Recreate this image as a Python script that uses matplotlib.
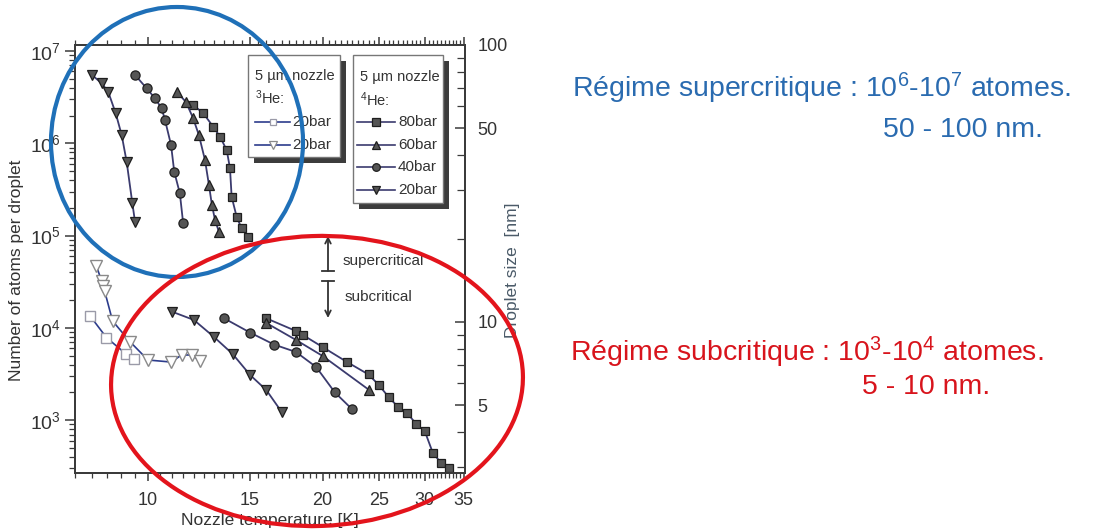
import matplotlib
matplotlib.use('Agg')
import matplotlib.pyplot as plt
import numpy as np
from matplotlib.patches import Ellipse, Rectangle
from matplotlib.lines import Line2D
from matplotlib.ticker import FixedLocator, LogLocator, NullFormatter, FixedFormatter

plt.rcParams['font.family'] = ['Liberation Sans', 'DejaVu Sans']
plt.rcParams['mathtext.fontset'] = 'custom'
plt.rcParams['mathtext.rm'] = 'Liberation Sans'
plt.rcParams['mathtext.it'] = 'Liberation Sans:italic'
plt.rcParams['mathtext.bf'] = 'Liberation Sans:bold'

# ---------------- data ----------------
# 4He, 5 um nozzle, supercritical branch
T_sup_80 = [11.97, 12.46, 12.96, 13.31, 13.67, 13.85, 13.94, 14.22, 14.50, 14.89]
N_sup_80 = [2.60e6, 2.11e6, 1.51e6, 1.18e6, 8.45e5, 5.35e5, 2.64e5, 1.60e5, 1.20e5, 9.7e4]
T_sup_60 = [11.22, 11.63, 11.96, 12.24, 12.54, 12.74, 12.89, 13.05, 13.26]
N_sup_60 = [3.6e6, 2.8e6, 1.88e6, 1.23e6, 6.6e5, 3.53e5, 2.15e5, 1.48e5, 1.09e5]
T_sup_40 = [9.50, 9.95, 10.28, 10.56, 10.70, 10.96, 11.10, 11.35, 11.50]
N_sup_40 = [5.5e6, 3.94e6, 3.08e6, 2.39e6, 1.79e6, 9.6e5, 4.92e5, 2.87e5, 1.36e5]
T_sup_20 = [8.01, 8.32, 8.54, 8.80, 9.01, 9.19, 9.40, 9.50]
N_sup_20 = [5.5e6, 4.47e6, 3.62e6, 2.11e6, 1.23e6, 6.3e5, 2.24e5, 1.41e5]

# 4He, subcritical branch
T_sub_80 = [16, 18, 18.5, 20, 22, 24, 25, 26, 27, 28, 29, 30, 31, 32, 33]
N_sub_80 = [1.27e4, 9.25e3, 8.37e3, 6.21e3, 4.30e3, 3.13e3, 2.41e3, 1.78e3,
            1.39e3, 1.19e3, 910, 764, 438, 347, 303]
T_sub_60 = [16, 18, 20, 24]
N_sub_60 = [1.13e4, 7.4e3, 4.97e3, 2.15e3]
T_sub_40 = [13.5, 15, 16.5, 18, 19.5, 21, 22.5]
N_sub_40 = [1.28e4, 8.9e3, 6.6e3, 5.48e3, 3.77e3, 2.0e3, 1.31e3]
T_sub_20 = [11, 12, 13, 14, 15, 16, 17]
N_sub_20 = [1.50e4, 1.22e4, 7.97e3, 5.21e3, 3.09e3, 2.12e3, 1.23e3]

# 3He, 5 um nozzle
T_he3_sq = [7.94, 8.48, 9.17, 9.45]
N_he3_sq = [1.36e4, 7.87e3, 5.21e3, 4.6e3]
T_he3_tri = [8.15, 8.32, 8.37, 8.42, 8.69, 9.31, 10.0, 10.96, 11.43, 11.89, 12.31]
N_he3_tri = [4.69e4, 3.22e4, 2.84e4, 2.51e4, 1.19e4, 7.1e3, 4.49e3, 4.27e3, 5.09e3, 5.09e3, 4.38e3]

x_ticks = [10, 15, 20, 25, 30, 35]
size_ticks = [5, 10, 50, 100]
legend_he4 = ['80bar', '60bar', '40bar', '20bar']
legend_he3 = ['20bar', '20bar']

# ---------------- figure ----------------
W, H = 1095, 529
fig = plt.figure(figsize=(W / 100, H / 100), dpi=100)
L, R, TOP, BOT = 75, 465, 45, 473
ax = fig.add_axes([L / W, 1 - BOT / H, (R - L) / W, (BOT - TOP) / H])
ax.set_xscale('log')
ax.set_yscale('log')
ymin, ymax = 268.0, 1.162e7
ax.set_xlim(7.486, 35.2)
ax.set_ylim(ymin, ymax)

axc = '#3a3a3a'
for sp in ax.spines.values():
    sp.set_color(axc)
    sp.set_linewidth(1.3)

ax.xaxis.set_major_locator(FixedLocator(x_ticks))
ax.xaxis.set_major_formatter(FixedFormatter([str(t) for t in x_ticks]))
minor_x = [v for v in np.arange(7.5, 35.01, 0.5) if v not in x_ticks]
ax.xaxis.set_minor_locator(FixedLocator(minor_x))
ax.xaxis.set_minor_formatter(NullFormatter())
ax.tick_params(axis='x', which='both', direction='out', top=True, bottom=True,
               colors=axc, labelcolor='#333333', labelsize=13, pad=8)
ax.tick_params(axis='x', which='major', length=6, width=1.1)
ax.tick_params(axis='x', which='minor', length=3.5, width=0.9)

ax.yaxis.set_major_locator(LogLocator(base=10))
ax.yaxis.set_minor_locator(LogLocator(base=10, subs=np.arange(2, 10)))
ax.yaxis.set_minor_formatter(NullFormatter())
ax.tick_params(axis='y', which='both', direction='out', left=True, right=False,
               colors=axc, labelcolor='#333333', labelsize=14, pad=3)
ax.tick_params(axis='y', which='major', length=7, width=1.1)
ax.tick_params(axis='y', which='minor', length=4, width=0.9)

# right axis: droplet size ~ N^(1/3)
c = 100.0 / ymax ** (1 / 3)
ax2 = ax.twinx()
ax2.set_yscale('log')
ax2.set_ylim(c * ymin ** (1 / 3), c * ymax ** (1 / 3))
ax2.yaxis.set_major_locator(FixedLocator(size_ticks))
ax2.yaxis.set_major_formatter(FixedFormatter([str(t) for t in size_ticks]))
ax2.yaxis.set_minor_locator(LogLocator(base=10, subs=np.arange(2, 10)))
ax2.yaxis.set_minor_formatter(NullFormatter())
ax2.tick_params(axis='y', which='both', direction='in', colors=axc,
                labelcolor='#333333', labelsize=13, pad=9)
ax2.tick_params(axis='y', which='major', length=7, width=1.1)
ax2.tick_params(axis='y', which='minor', length=6, width=0.9)
for sp in ax2.spines.values():
    sp.set_color(axc)
    sp.set_linewidth(1.3)

line_c = '#3b3b6e'
mfc = '#555555'
mec = '#1e1e1e'
styles = {80: 's', 60: '^', 40: 'o', 20: 'v'}
ms = {80: 6.3, 60: 7.3, 40: 6.6, 20: 7.8}
sup = {80: (T_sup_80, N_sup_80), 60: (T_sup_60, N_sup_60),
       40: (T_sup_40, N_sup_40), 20: (T_sup_20, N_sup_20)}
sub = {80: (T_sub_80, N_sub_80), 60: (T_sub_60, N_sub_60),
       40: (T_sub_40, N_sub_40), 20: (T_sub_20, N_sub_20)}
for p in (80, 60, 40, 20):
    for d in (sup, sub):
        x, y = d[p]
        ax.plot(x, y, color=line_c, lw=1.3, marker=styles[p], ms=ms[p],
                mfc=mfc, mec=mec, mew=0.9, zorder=3)

he3_line = '#2c3c8c'
ax.plot(T_he3_sq, N_he3_sq, color=he3_line, lw=1.2, marker='s', ms=6.5,
        mfc='white', mec='#9a9aa8', mew=1.0, zorder=3)
ax.plot(T_he3_tri, N_he3_tri, color=he3_line, lw=1.2, marker='v', ms=8,
        mfc='white', mec='#8a8a8a', mew=1.0, zorder=3)

# ---------------- overlay in pixel coordinates ----------------
ov = fig.add_axes([0, 0, 1, 1], zorder=10)
ov.set_xlim(0, W)
ov.set_ylim(H, 0)
ov.axis('off')
ov.patch.set_alpha(0)

txtc = '#333333'
ov.text(17, 270, 'Number of atoms per droplet', rotation=90, ha='center',
        va='center', fontsize=12.5, color=txtc)
ov.text(270, 521, 'Nozzle temperature [K]', ha='center', va='center',
        fontsize=12.5, color=txtc)
ov.text(512, 270, 'Droplet size  [nm]', rotation=90, ha='center', va='center',
        fontsize=12.5, color='#4a5a68')


def legend_box(x0, y0, x1, y1):
    ov.add_patch(Rectangle((x0 + 6, y0 + 6), x1 - x0, y1 - y0, fc='#3c3c3c',
                           ec='none', zorder=4))
    ov.add_patch(Rectangle((x0, y0), x1 - x0, y1 - y0, fc='white',
                           ec='#777777', lw=1.0, zorder=5))


def legend_entry(xa, xb, y, marker, msz, face, edge, lc, label, xt):
    ov.add_line(Line2D([xa, xb], [y, y], color=lc, lw=1.2, zorder=6))
    ov.add_line(Line2D([(xa + xb) / 2], [y], marker=marker, ms=msz, mfc=face,
                       mec=edge, mew=0.9, ls='none', zorder=7))
    ov.text(xt, y, label, ha='left', va='center', fontsize=11, color=txtc,
            zorder=7)


# 3He legend
legend_box(248, 55, 340, 157)
ov.text(255, 76, '5 \u00b5m nozzle', ha='left', va='center', fontsize=10.5,
        color=txtc, zorder=7)
ov.text(255, 98, '$^{3}$He:', ha='left', va='center', fontsize=10.5,
        color=txtc, zorder=7)
legend_entry(255, 290, 122, 's', 5, 'white', '#9a9aa8', he3_line, legend_he3[0], 292)
legend_entry(255, 290, 145, 'v', 6, 'white', '#8a8a8a', he3_line, legend_he3[1], 292)

# 4He legend
legend_box(353, 55, 443, 203)
ov.text(360, 77, '5 \u00b5m nozzle', ha='left', va='center', fontsize=10.5,
        color=txtc, zorder=7)
ov.text(360, 100, '$^{4}$He:', ha='left', va='center', fontsize=10.5,
        color=txtc, zorder=7)
for lab, mk, yy in zip(legend_he4, ['s', '^', 'o', 'v'], [122, 145, 167, 190]):
    legend_entry(357, 395, yy, mk, 5.5, mfc, mec, line_c, lab, 398)

# super/subcritical arrows
ov.annotate('', xy=(328, 236), xytext=(328, 271),
            arrowprops=dict(arrowstyle='->', color=txtc, lw=1.3,
                            shrinkA=0, shrinkB=0), zorder=6)
ov.add_line(Line2D([322, 334], [271, 271], color=txtc, lw=1.3, zorder=6))
ov.annotate('', xy=(328, 318), xytext=(328, 281),
            arrowprops=dict(arrowstyle='->', color=txtc, lw=1.3,
                            shrinkA=0, shrinkB=0), zorder=6)
ov.add_line(Line2D([322, 334], [281, 281], color=txtc, lw=1.3, zorder=6))
ov.text(343, 261, 'supercritical', ha='left', va='center', fontsize=11,
        color=txtc, zorder=6)
ov.text(345, 297, 'subcritical', ha='left', va='center', fontsize=11,
        color=txtc, zorder=6)

# highlight ellipses
blue = '#1f70b8'
red = '#e3141c'
ov.add_patch(Ellipse((177, 142), 252, 270, fill=False, ec=blue, lw=3.0, zorder=9))
ov.add_patch(Ellipse((317, 381), 412, 290, angle=-2, fill=False, ec=red, lw=3.0,
                     zorder=9))

# regime annotations
fs = 20.5
ov.text(572, 88, 'R\u00e9gime supercritique : 10$^{6}$-10$^{7}$ atomes.',
        ha='left', va='center', fontsize=fs, color='#2a6bb0')
ov.text(883, 130, '50 - 100 nm.', ha='left', va='center', fontsize=fs,
        color='#2a6bb0')
ov.text(570, 352, 'R\u00e9gime subcritique : 10$^{3}$-10$^{4}$ atomes.',
        ha='left', va='center', fontsize=fs, color='#d8141c')
ov.text(862, 387, '5 - 10 nm.', ha='left', va='center', fontsize=fs,
        color='#d8141c')

fig.savefig('out.png', dpi=100)
